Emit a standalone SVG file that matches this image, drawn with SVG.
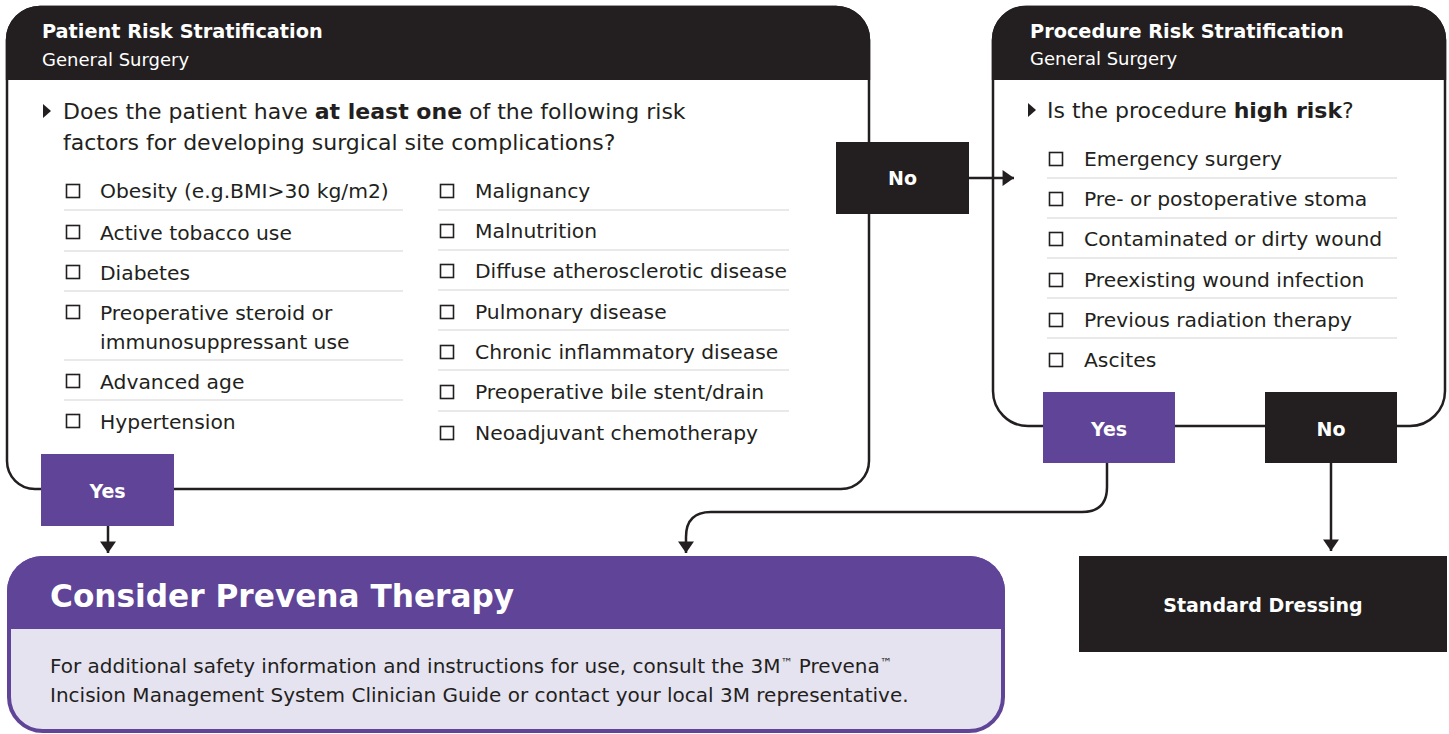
<svg xmlns="http://www.w3.org/2000/svg" width="1449" height="734" viewBox="0 0 1449 734">
<defs>
<marker id="ah" markerUnits="userSpaceOnUse" markerWidth="14" markerHeight="16" viewBox="0 0 10 14" refX="10" refY="7" orient="auto">
<path d="M0,0 L10,7 L0,14 Z" fill="#231f20"/>
</marker>
</defs>
<style>
text{font-family:"DejaVu Sans","Liberation Sans",Arial,sans-serif;fill:#231f20}
.ht{font-size:19.3px;font-weight:bold;fill:#fff}
.hs{font-size:18px;fill:#fff}
.q{font-size:22px}
.it{font-size:20.3px}
.lbl{font-size:19px;font-weight:bold;fill:#fff;text-anchor:middle}
.cb{fill:none;stroke:#231f20;stroke-width:1.6}
.sep{stroke:#e2e2e2;stroke-width:1.5}
.dark{fill:#231f20}
.purple{fill:#5f4497}
.outline{fill:#fff;stroke:#231f20;stroke-width:2.5}
.conn{fill:none;stroke:#231f20;stroke-width:2.5}
.tm{font-size:12px;baseline-shift:6px}
</style>

<g id="patient-risk">
<path class="outline" d="M7,40 A33,33 0 0 1 40,7 L836,7 A33,33 0 0 1 869,40 L869,461 A28,28 0 0 1 841,489 L35,489 A28,28 0 0 1 7,461 Z"/>
<path class="dark" d="M5.8,40 A34.2,34.2 0 0 1 40,5.8 L836,5.8 A34.2,34.2 0 0 1 870.2,40 L870.2,80 L5.8,80 Z"/>
<text class="ht" x="42" y="38">Patient Risk Stratification</text>
<text class="hs" x="42" y="66">General Surgery</text>
<path class="dark" d="M43,104 L51,111 L43,118 Z"/>
<text class="q" x="63" y="119">Does the patient have <tspan font-weight="bold">at least one</tspan> of the following risk</text>
<text class="q" x="63" y="150">factors for developing surgical site complications?</text>
<g>
<rect class="cb" x="66.5" y="184.5" width="13" height="13"/><text class="it" x="100" y="198">Obesity (e.g.BMI&gt;30 kg/m2)</text>
<line class="sep" x1="64" y1="210" x2="403" y2="210"/>
<rect class="cb" x="66.5" y="225.5" width="13" height="13"/><text class="it" x="100" y="240">Active tobacco use</text>
<line class="sep" x1="64" y1="251" x2="403" y2="251"/>
<rect class="cb" x="66.5" y="265.5" width="13" height="13"/><text class="it" x="100" y="280">Diabetes</text>
<line class="sep" x1="64" y1="291" x2="403" y2="291"/>
<rect class="cb" x="66.5" y="305.5" width="13" height="13"/><text class="it" x="100" y="320">Preoperative steroid or</text>
<text class="it" x="100" y="349">immunosuppressant use</text>
<line class="sep" x1="64" y1="360" x2="403" y2="360"/>
<rect class="cb" x="66.5" y="374.5" width="13" height="13"/><text class="it" x="100" y="389">Advanced age</text>
<line class="sep" x1="64" y1="400" x2="403" y2="400"/>
<rect class="cb" x="66.5" y="414.5" width="13" height="13"/><text class="it" x="100" y="429">Hypertension</text>
</g>
<g>
<rect class="cb" x="440.5" y="184.5" width="13" height="13"/><text class="it" x="475" y="198">Malignancy</text>
<line class="sep" x1="438" y1="210" x2="789" y2="210"/>
<rect class="cb" x="440.5" y="224.5" width="13" height="13"/><text class="it" x="475" y="238">Malnutrition</text>
<line class="sep" x1="438" y1="250" x2="789" y2="250"/>
<rect class="cb" x="440.5" y="264.5" width="13" height="13"/><text class="it" x="475" y="278">Diffuse atherosclerotic disease</text>
<line class="sep" x1="438" y1="290" x2="789" y2="290"/>
<rect class="cb" x="440.5" y="305.5" width="13" height="13"/><text class="it" x="475" y="319">Pulmonary disease</text>
<line class="sep" x1="438" y1="330" x2="789" y2="330"/>
<rect class="cb" x="440.5" y="345.5" width="13" height="13"/><text class="it" x="475" y="359">Chronic inflammatory disease</text>
<line class="sep" x1="438" y1="370" x2="789" y2="370"/>
<rect class="cb" x="440.5" y="385.5" width="13" height="13"/><text class="it" x="475" y="399">Preoperative bile stent/drain</text>
<line class="sep" x1="438" y1="411" x2="789" y2="411"/>
<rect class="cb" x="440.5" y="426.5" width="13" height="13"/><text class="it" x="475" y="440">Neoadjuvant chemotherapy</text>
</g>
</g>

<g id="procedure-risk">
<path class="outline" d="M993,40 A33,33 0 0 1 1026,7 L1412,7 A33,33 0 0 1 1445,40 L1445,391 A35,35 0 0 1 1410,426 L1028,426 A35,35 0 0 1 993,391 Z"/>
<path class="dark" d="M991.8,40 A34.2,34.2 0 0 1 1026,5.8 L1412,5.8 A34.2,34.2 0 0 1 1446.2,40 L1446.2,80 L991.8,80 Z"/>
<text class="ht" x="1030" y="38">Procedure Risk Stratification</text>
<text class="hs" x="1030" y="65">General Surgery</text>
<path class="dark" d="M1028,103 L1036,110 L1028,117 Z"/>
<text class="q" x="1047" y="118">Is the procedure <tspan font-weight="bold">high risk</tspan>?</text>
<rect class="cb" x="1049.5" y="152.5" width="13" height="13"/><text class="it" x="1084" y="166">Emergency surgery</text>
<line class="sep" x1="1047" y1="178" x2="1397" y2="178"/>
<rect class="cb" x="1049.5" y="192.5" width="13" height="13"/><text class="it" x="1084" y="206">Pre- or postoperative stoma</text>
<line class="sep" x1="1047" y1="218" x2="1397" y2="218"/>
<rect class="cb" x="1049.5" y="232.5" width="13" height="13"/><text class="it" x="1084" y="246">Contaminated or dirty wound</text>
<line class="sep" x1="1047" y1="258" x2="1397" y2="258"/>
<rect class="cb" x="1049.5" y="273.5" width="13" height="13"/><text class="it" x="1084" y="287">Preexisting wound infection</text>
<line class="sep" x1="1047" y1="298" x2="1397" y2="298"/>
<rect class="cb" x="1049.5" y="313.5" width="13" height="13"/><text class="it" x="1084" y="327">Previous radiation therapy</text>
<line class="sep" x1="1047" y1="338" x2="1397" y2="338"/>
<rect class="cb" x="1049.5" y="353.5" width="13" height="13"/><text class="it" x="1084" y="367">Ascites</text>
</g>

<g id="connectors">
<line class="conn" x1="108" y1="526" x2="108" y2="553" marker-end="url(#ah)"/>
<line class="conn" x1="969" y1="178" x2="1014" y2="178" marker-end="url(#ah)"/>
<path class="conn" d="M1107,463 L1107,487 Q1107,512 1082,512 L711,512 Q686,512 686,537 L686,553" marker-end="url(#ah)"/>
<line class="conn" x1="1331" y1="463" x2="1331" y2="551" marker-end="url(#ah)"/>
</g>

<g id="no-patient">
<rect class="dark" x="836" y="142" width="133" height="72"/>
<text class="lbl" x="902.5" y="185">No</text>
</g>

<g id="yes-patient">
<rect class="purple" x="41" y="454" width="133" height="72"/>
<text class="lbl" x="107.5" y="498">Yes</text>
</g>

<g id="yes-procedure">
<rect class="purple" x="1043" y="392" width="132" height="71"/>
<text class="lbl" x="1109" y="436">Yes</text>
</g>

<g id="no-procedure">
<rect class="dark" x="1265" y="392" width="132" height="71"/>
<text class="lbl" x="1331" y="436">No</text>
</g>

<g id="consider-prevena">
<rect x="9" y="558" width="994" height="173" rx="34" fill="#e6e3f0" stroke="#5f4497" stroke-width="4"/>
<path class="purple" d="M7,591 A35,35 0 0 1 42,556 L970,556 A35,35 0 0 1 1005,591 L1005,629 L7,629 Z"/>
<text x="50" y="607" font-size="31.2" font-weight="bold" style="fill:#fff">Consider Prevena Therapy</text>
<text x="50" y="673" font-size="20">For additional safety information and instructions for use, consult the 3M<tspan class="tm">™</tspan> Prevena<tspan class="tm">™</tspan></text>
<text x="50" y="702" font-size="20">Incision Management System Clinician Guide or contact your local 3M representative.</text>
</g>

<g id="standard-dressing">
<rect class="dark" x="1079" y="556" width="368" height="96"/>
<text class="lbl" x="1263" y="612" font-size="20">Standard Dressing</text>
</g>
</svg>
